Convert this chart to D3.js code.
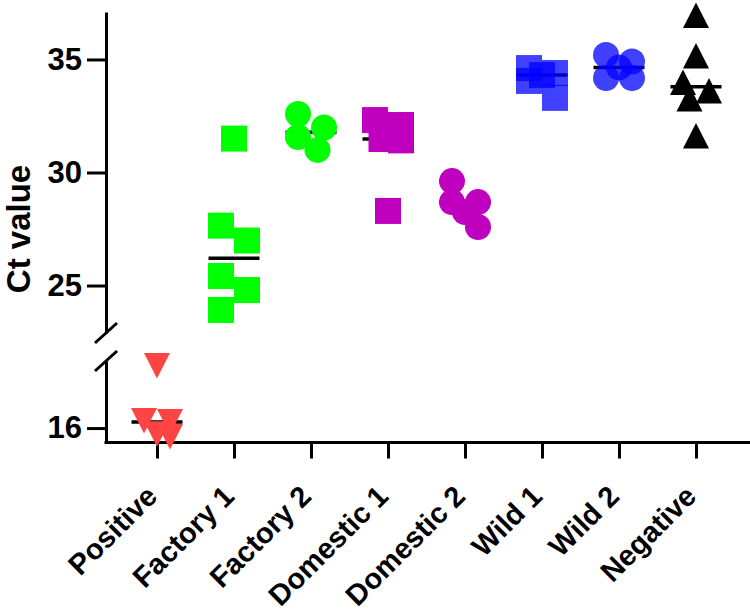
<!DOCTYPE html>
<html><head><meta charset="utf-8">
<script src="https://cdn.jsdelivr.net/npm/d3@7"></script>
<style>
body{margin:0;background:#fff}
svg text{font-family:"Liberation Sans",Arial,sans-serif;font-weight:bold;fill:#000}
</style>
</head><body>
<svg id="chart" width="750" height="613"></svg>
<script>
// ---- data ----
const categories = ["Positive","Factory 1","Factory 2","Domestic 1","Domestic 2","Wild 1","Wild 2","Negative"];
const positive  = [18.74, 16.31, 16.27, 15.73, 15.60];
const factory1  = [31.5, 27.65, 26.99, 25.42, 24.8, 23.92];
const factory2  = [32.59, 31.99, 31.57, 31.0];
const domestic1 = [32.32, 32.10, 31.48, 31.42, 28.30];
const domestic2 = [29.62, 28.69, 28.69, 28.25, 27.59];
const wild1     = [34.62, 34.40, 34.31, 34.05, 33.30];
const wild2     = [35.2, 34.91, 34.65, 34.18, 34.18];
const negative  = [36.95, 35.15, 33.98, 33.61, 33.25, 31.62];
const upperTicks = [25, 30, 35];
const lowerTicks = [16];
const yTitle = "Ct value";

const groupValues = [positive, factory1, factory2, domestic1, domestic2, wild1, wild2, negative];
const shapes  = ["triangleDown","square","circle","square","circle","square","circle","triangleUp"];
const colors  = ["#ff4444","#00ff00","#00ff00","#bf00bf","#bf00bf","#0000ff","#0000ff","#000000"];
const opacity = [1,1,1,1,1,0.75,0.75,1];

// ---- scales ----
const svg = d3.select("#chart");
const axisX = 106, axisBottom = 442.5;
const x = d3.scalePoint().domain(categories).range([157, 696]);
const yUpper = d3.scaleLinear().domain([22.9, 37.1]).range([333, 12]);
const yLower = d3.scaleLinear().domain([15.34, 18.96]).range([443, 361]);
const breakValue = 20;
const y = v => v < breakValue ? yLower(v) : yUpper(v);

// ---- axes ----
function styleAxis(g, fs){
  g.select(".domain").attr("stroke","#000").attr("stroke-width",3);
  g.selectAll(".tick line").attr("stroke","#000").attr("stroke-width",3);
  g.selectAll(".tick text").attr("font-size",fs).attr("fill","#000")
   .attr("font-family","Liberation Sans, Arial, sans-serif").attr("font-weight","bold");
}
const fmt = d3.format("d");
const gU = svg.append("g").attr("transform",`translate(${axisX},0)`)
  .call(d3.axisLeft(yUpper).tickValues(upperTicks).tickFormat(fmt).tickSize(19).tickSizeOuter(0).tickPadding(5));
styleAxis(gU, 31);
const gL = svg.append("g").attr("transform",`translate(${axisX},0)`)
  .call(d3.axisLeft(yLower).tickValues(lowerTicks).tickFormat(fmt).tickSize(19).tickSizeOuter(0).tickPadding(5));
styleAxis(gL, 31);

// break marks
[yUpper.range()[0], yLower.range()[1]].forEach(yy=>{
  svg.append("line").attr("x1",axisX-11).attr("y1",yy+10).attr("x2",axisX+11).attr("y2",yy-10)
    .attr("stroke","#000").attr("stroke-width",3);
});

const gX = svg.append("g").attr("transform",`translate(0,${axisBottom})`)
  .call(d3.axisBottom(x).tickSize(16).tickFormat(""));
gX.select(".domain").remove();
gX.selectAll(".tick line").attr("stroke","#000").attr("stroke-width",3);
svg.append("line").attr("x1",axisX-1.5).attr("x2",750).attr("y1",axisBottom).attr("y2",axisBottom)
  .attr("stroke","#000").attr("stroke-width",3);

svg.append("g").selectAll("text").data(categories).join("text")
  .attr("transform",d=>`translate(${x(d)+2},498) rotate(-45)`)
  .attr("text-anchor","end").attr("font-size",29).text(d=>d);

svg.append("text").attr("transform","translate(30,229) rotate(-90)")
  .attr("text-anchor","middle").attr("font-size",33).text(yTitle);

// ---- medians (behind points) ----
svg.append("g").selectAll("line").data(categories).join("line")
  .attr("x1",(c)=>x(c)-25.5).attr("x2",(c)=>x(c)+25.5)
  .attr("y1",(c,i)=>y(d3.median(groupValues[i]))).attr("y2",(c,i)=>y(d3.median(groupValues[i])))
  .attr("stroke","#000").attr("stroke-width",3.5);

// ---- points with simple dodge layout ----
const markSize = 26;
function dodge(vals){
  const h = markSize/2;
  const lanes = [0, h/2, -h/2, h, -h];
  const pts = vals.map(v=>({v, py:y(v)})).sort((a,b)=>a.py-b.py);
  const clusters = []; let cur = [];
  pts.forEach((p,i)=>{
    if(i>0 && p.py - pts[i-1].py >= markSize-1){ clusters.push(cur); cur=[]; }
    cur.push(p);
  });
  clusters.push(cur);
  clusters.forEach(cl=>{
    if(cl.length===1){ cl[0].dx=0; return; }
    const placed=[];
    cl.forEach((p,i)=>{
      if(i===0) p.dx=-h;
      else {
        let best=0, bestD=-1;
        lanes.forEach(l=>{
          const d = d3.min(placed, q=>Math.hypot(l-q.dx, p.py-q.py));
          if(d > bestD+1e-6){ bestD=d; best=l; }
        });
        p.dx=best;
      }
      placed.push(p);
    });
  });
  return pts;
}
function shapePath(type){
  const s=markSize, h=s/2;
  if(type==="square") return `M${-h},${-h}h${s}v${s}h${-s}Z`;
  if(type==="circle") return `M${h},0A${h},${h},0,1,1,${-h},0A${h},${h},0,1,1,${h},0Z`;
  if(type==="triangleUp") return `M0,${-h}L${h},${h-0.5}L${-h},${h-0.5}Z`;
  return `M0,${h-0.5}L${h},${-h}L${-h},${-h}Z`;
}
categories.forEach((c,i)=>{
  const pts = dodge(groupValues[i]);
  svg.append("g").selectAll("path").data(pts).join("path")
    .attr("d",shapePath(shapes[i]))
    .attr("transform",p=>`translate(${x(c)+p.dx},${p.py})`)
    .attr("fill",colors[i]).attr("fill-opacity",opacity[i]);
});
</script>
</body></html>
